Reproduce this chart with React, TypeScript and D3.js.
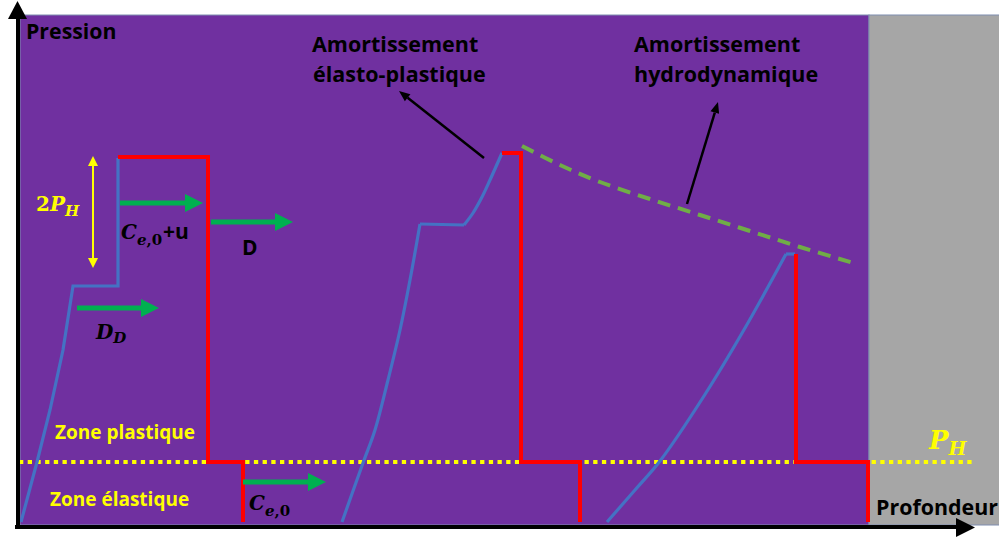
import React from "react";
import * as d3 from "d3";

const W = 999;
const H = 537;

// Values (depth on x, pressure on y, arbitrary units)
const PH = 60; // hydrostatic pressure level P_H
const zoneEndDepth = 850; // end of the purple (soil) zone

// Blue loading curves
const blue1: [number, number][] = [[2, 0], [18, 60], [31, 112], [44, 172], [54, 236], [99, 236], [99, 364]];
const blue2Rise: [number, number][] = [[323, 0], [344, 59], [356, 92], [369, 142], [381, 192], [391, 242], [401, 298]];
const blue2Plateau: [number, number][] = [[401, 298], [445, 297]];
const blue2Top: [number, number][] = [[445, 297], [454, 309], [463, 325], [471, 342], [483, 369]];
const blue3Rise: [number, number][] = [[588, 0], [616, 32], [641, 61], [685, 126], [726, 194], [767, 268]];
const blue3Plateau: [number, number][] = [[767, 268], [776, 268]];

// Red unloading steps
const red1: [number, number][] = [[99, 365], [189, 365], [189, PH], [224, PH], [224, 0]];
const red2: [number, number][] = [[483, 369], [502, 369], [502, PH], [561, PH], [561, 0]];
const red3: [number, number][] = [[777, 268], [777, PH], [849, PH], [849, 0]];

// Green dashed hydrodynamic damping envelope
const envelope: [number, number][] = [[503, 376], [541, 357], [581, 340], [631, 323], [681, 307], [731, 291], [781, 275], [838, 258]];

// Green displacement arrows: [startDepth, endDepth, pressure]
const greenArrows: [number, number, number][] = [
  [101, 184, 319],
  [192, 274, 300],
  [58, 140, 214],
  [224, 307, 40],
];

// Black annotation arrows: [fromDepth, fromP, toDepth, toP]
const blackArrows: [number, number, number, number][] = [
  [465, 364, 380, 431],
  [668, 318, 699, 420],
];

// Yellow 2P_H double arrow: [depth, pLow, pHigh]
const twoPH: [number, number, number] = [74, 254, 366];

const PH_LINE_END = 954;

const x = d3.scaleLinear().domain([0, 980]).range([19, 999]);
const y = d3.scaleLinear().domain([0, 510]).range([522, 12]);

const lineLinear = d3.line<[number, number]>().x((d) => x(d[0])).y((d) => y(d[1]));
const lineSmooth = d3
  .line<[number, number]>()
  .x((d) => x(d[0]))
  .y((d) => y(d[1]))
  .curve(d3.curveCatmullRom.alpha(0.5));

const PURPLE = "#7030A0";
const GRAY = "#A6A6A6";
const BLUE = "#4472C4";
const RED = "#FF0000";
const GREEN = "#00B050";
const YELLOW = "#FFFF00";
const LGREEN = "#70AD47";
const BORDER = "#7F8DB0";

const SANS = "'Open Sans', 'DejaVu Sans', sans-serif";
const SERIF = "'DejaVu Serif', 'Liberation Serif', serif";

function GreenArrow({ a }: { a: [number, number, number] }) {
  const x1 = x(a[0]);
  const x2 = x(a[1]);
  const yy = y(a[2]);
  const hl = 18;
  const hw = 9;
  return (
    <g>
      <line x1={x1} y1={yy} x2={x2 - hl + 1} y2={yy} stroke={GREEN} strokeWidth={5} />
      <polygon points={`${x2 - hl},${yy - hw} ${x2},${yy} ${x2 - hl},${yy + hw}`} fill={GREEN} />
    </g>
  );
}

function BlackArrow({ a }: { a: [number, number, number, number] }) {
  const x1 = x(a[0]);
  const y1 = y(a[1]);
  const x2 = x(a[2]);
  const y2 = y(a[3]);
  const ang = Math.atan2(y2 - y1, x2 - x1);
  const hl = 11;
  const hw = 4.5;
  const bx = x2 - hl * Math.cos(ang);
  const by = y2 - hl * Math.sin(ang);
  const px = -Math.sin(ang) * hw;
  const py = Math.cos(ang) * hw;
  return (
    <g>
      <line x1={x1} y1={y1} x2={bx} y2={by} stroke="#000" strokeWidth={2.5} />
      <polygon points={`${bx + px},${by + py} ${x2},${y2} ${bx - px},${by - py}`} fill="#000" />
    </g>
  );
}

export default function App() {
  const ax = x(twoPH[0]);
  const ayTop = y(twoPH[2]);
  const ayBot = y(twoPH[1]);
  const purpleX0 = x(1);
  const purpleX1 = x(zoneEndDepth);
  return (
    <svg
      width={W}
      height={H}
      viewBox={`0 0 ${W} ${H}`}
      style={{ position: "absolute", left: 0, top: 0, background: "#fff" }}
    >
      {/* background zones */}
      <rect x={purpleX0} y={15} width={purpleX1 - purpleX0} height={510} fill={PURPLE} stroke={BORDER} strokeWidth={1} />
      <rect x={purpleX1} y={15} width={W - purpleX1 + 5} height={510} fill={GRAY} stroke={BORDER} strokeWidth={1} />

      {/* P_H dotted line */}
      <line
        x1={x(0)}
        y1={y(PH)}
        x2={x(PH_LINE_END)}
        y2={y(PH)}
        stroke={YELLOW}
        strokeWidth={4}
        strokeDasharray="4.3 4.4"
      />

      {/* envelope */}
      <path d={lineSmooth(envelope) || ""} fill="none" stroke={LGREEN} strokeWidth={4} strokeDasharray="13 8" />

      {/* blue curves */}
      <path d={lineLinear(blue1) || ""} fill="none" stroke={BLUE} strokeWidth={3.2} />
      <path d={lineSmooth(blue2Rise) || ""} fill="none" stroke={BLUE} strokeWidth={3.2} />
      <path d={lineLinear(blue2Plateau) || ""} fill="none" stroke={BLUE} strokeWidth={3.2} />
      <path d={lineSmooth(blue2Top) || ""} fill="none" stroke={BLUE} strokeWidth={3.2} />
      <path d={lineSmooth(blue3Rise) || ""} fill="none" stroke={BLUE} strokeWidth={3.2} />
      <path d={lineLinear(blue3Plateau) || ""} fill="none" stroke={BLUE} strokeWidth={3.2} />

      {/* red curves */}
      {[red1, red2, red3].map((r, i) => (
        <path key={i} d={lineLinear(r) || ""} fill="none" stroke={RED} strokeWidth={4} strokeLinejoin="miter" />
      ))}

      {/* green arrows */}
      {greenArrows.map((a, i) => (
        <GreenArrow key={i} a={a} />
      ))}

      {/* black annotation arrows */}
      {blackArrows.map((a, i) => (
        <BlackArrow key={i} a={a} />
      ))}

      {/* 2P_H double arrow */}
      <line x1={ax} y1={ayTop + 9} x2={ax} y2={ayBot - 9} stroke={YELLOW} strokeWidth={2} />
      <polygon points={`${ax - 5},${ayTop + 10} ${ax},${ayTop} ${ax + 5},${ayTop + 10}`} fill={YELLOW} />
      <polygon points={`${ax - 5},${ayBot - 10} ${ax},${ayBot} ${ax + 5},${ayBot - 10}`} fill={YELLOW} />

      {/* axes */}
      <line x1={18} y1={529} x2={18} y2={14} stroke="#000" strokeWidth={4} />
      <polygon points="8,19 17.5,1 27,19" fill="#000" />
      <line x1={15} y1={527} x2={960} y2={527} stroke="#000" strokeWidth={4} />
      <polygon points="956,518 975,527.5 956,537" fill="#000" />

      {/* texts */}
      <g fontFamily={SANS} fontWeight="bold" fill="#000">
        <text x={26} y={39} fontSize={21.3}>Pression</text>
        <text x={312} y={52} fontSize={21.5}>Amortissement</text>
        <text x={313} y={82} fontSize={21.5}>élasto-plastique</text>
        <text x={634} y={52} fontSize={21.5}>Amortissement</text>
        <text x={634} y={82} fontSize={21.5}>hydrodynamique</text>
        <text x={876} y={515} fontSize={21.4}>Profondeur</text>
        <text x={242} y={255} fontSize={21}>D</text>
        <text x={163} y={239} fontSize={21}>+u</text>
      </g>
      <g fontFamily={SANS} fontWeight="bold" fill={YELLOW}>
        <text x={55} y={439} fontSize={19}>Zone plastique</text>
        <text x={50} y={506} fontSize={19}>Zone élastique</text>
      </g>

      <g fontFamily={SERIF} fontWeight="bold">
        <text x={36} y={211} fontSize={20} fill={YELLOW}>
          <tspan>2</tspan>
          <tspan fontStyle="italic">P</tspan>
          <tspan fontStyle="italic" fontSize={15} dy={5}>H</tspan>
        </text>
        <text x={121} y={239} fontSize={20} fill="#000">
          <tspan fontStyle="italic">C</tspan>
          <tspan fontSize={15} dy={6}>
            <tspan fontStyle="italic">e</tspan>,0
          </tspan>
        </text>
        <text x={96} y={339} fontSize={20} fill="#000">
          <tspan fontStyle="italic">D</tspan>
          <tspan fontStyle="italic" fontSize={15} dy={4}>D</tspan>
        </text>
        <text x={249} y={510} fontSize={20} fill="#000">
          <tspan fontStyle="italic">C</tspan>
          <tspan fontSize={15} dy={6}>
            <tspan fontStyle="italic">e</tspan>,0
          </tspan>
        </text>
        <text x={929} y={449} fontSize={26} fill={YELLOW}>
          <tspan fontStyle="italic">P</tspan>
          <tspan fontStyle="italic" fontSize={19} dy={6}>H</tspan>
        </text>
      </g>
    </svg>
  );
}
